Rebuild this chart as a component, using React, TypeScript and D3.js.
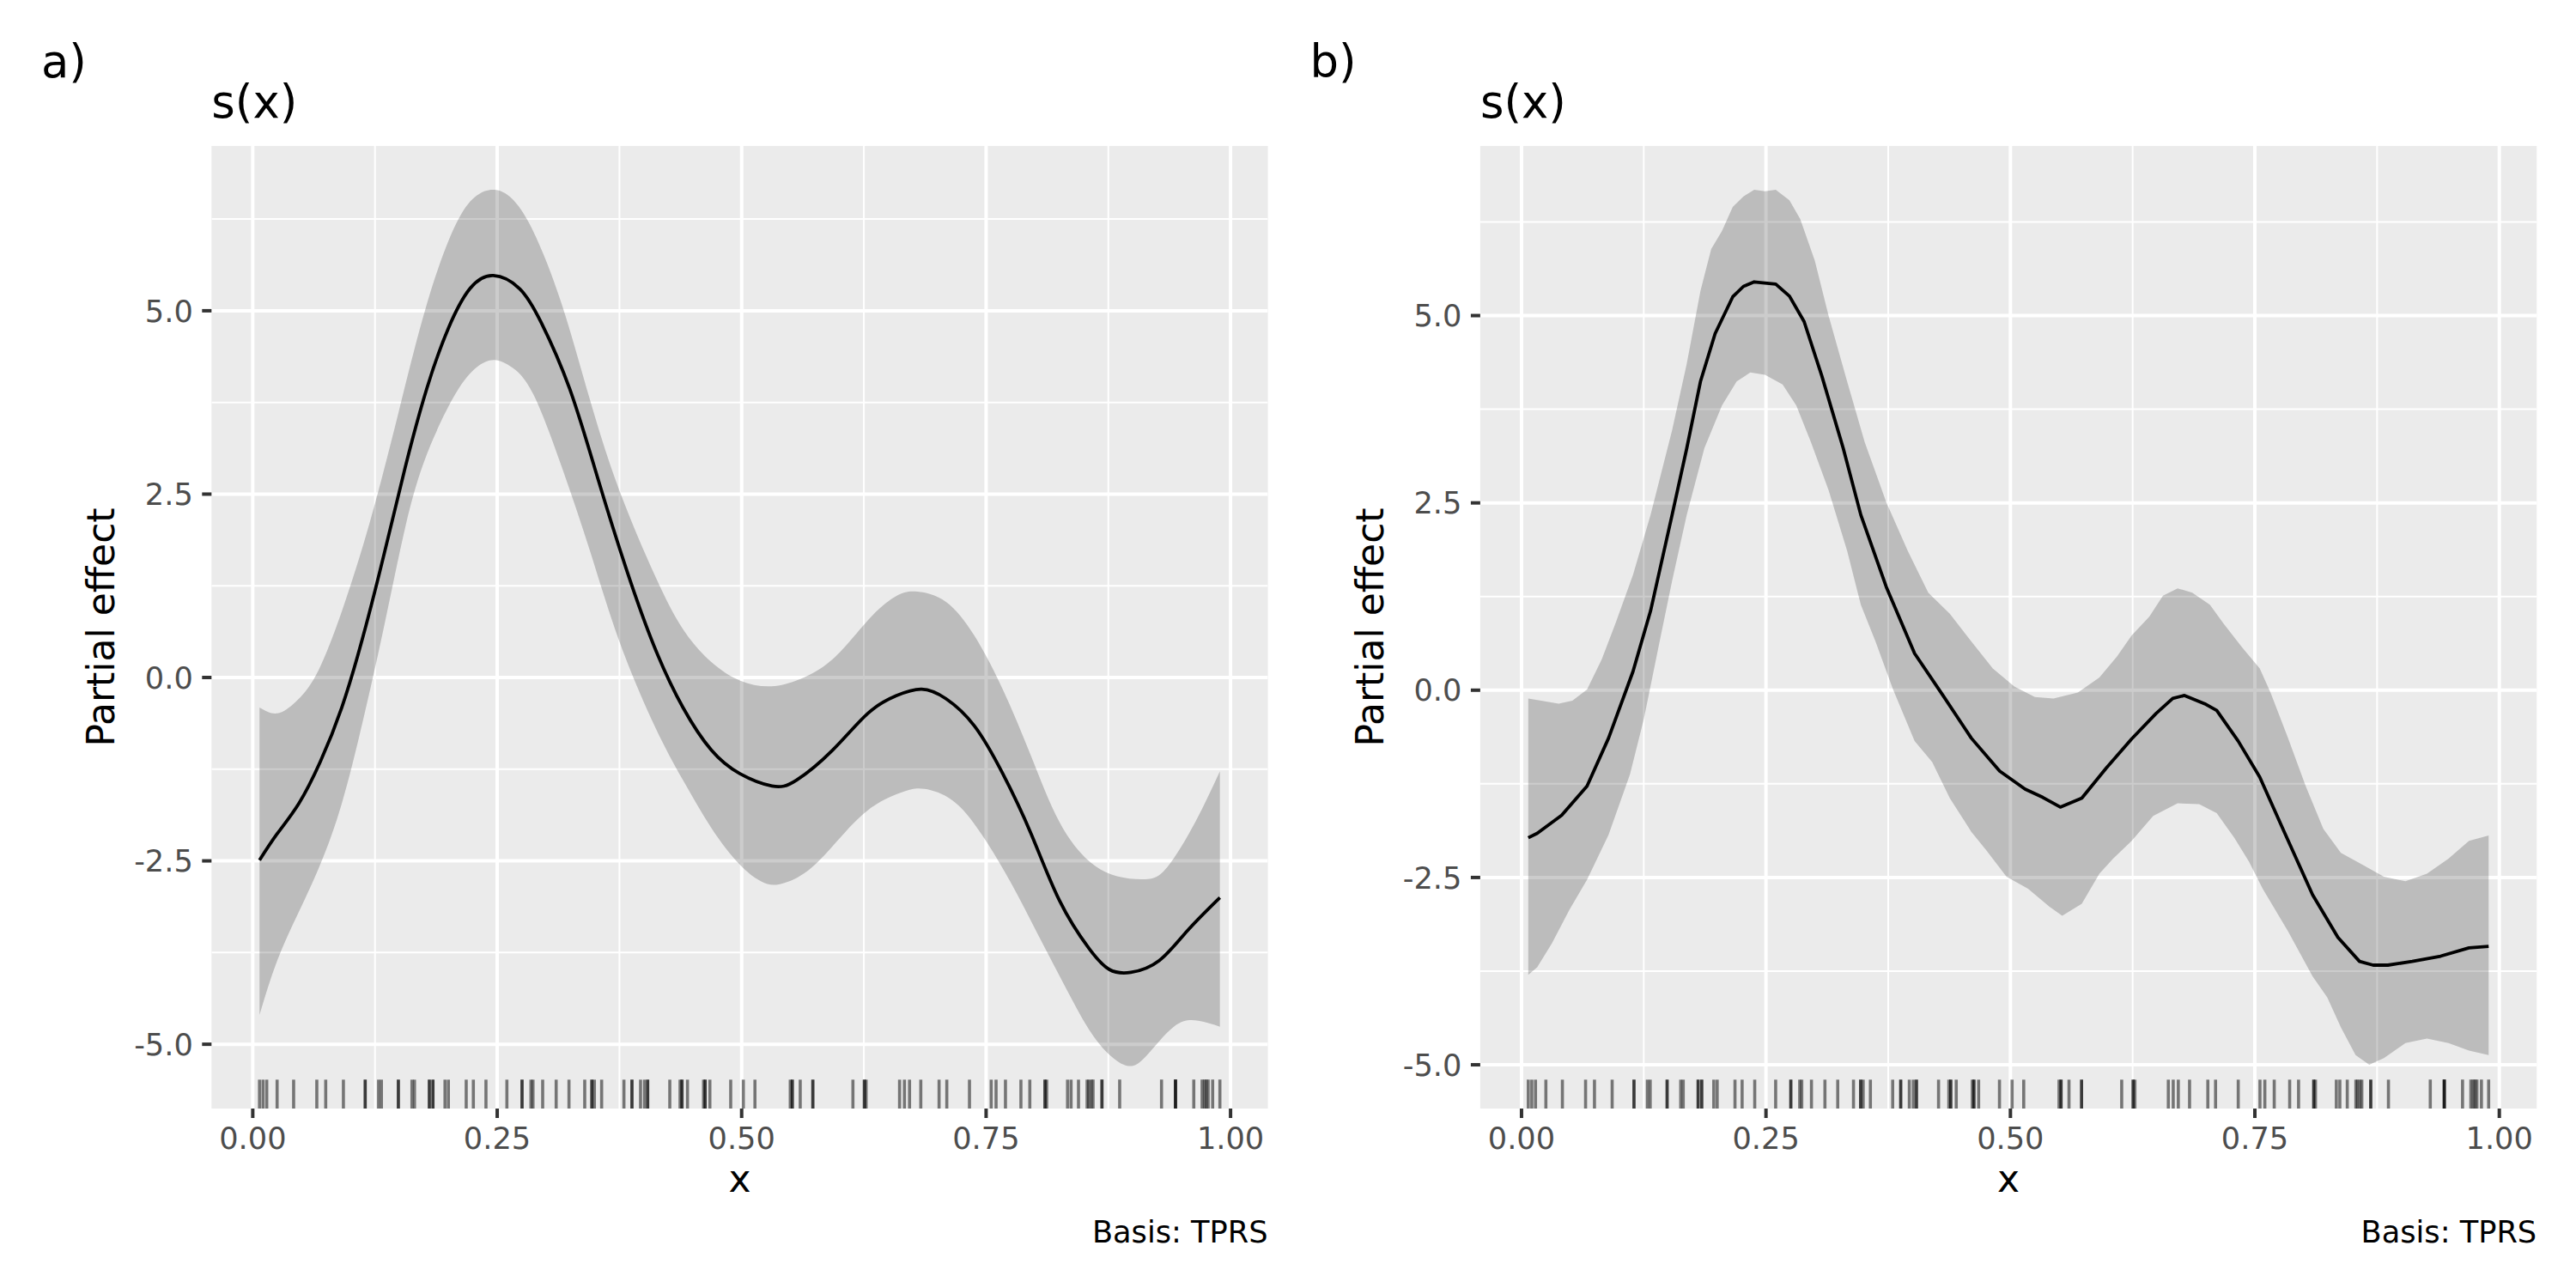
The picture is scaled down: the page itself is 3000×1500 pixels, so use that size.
import React from "react";
import * as d3 from "d3";

const FONT = "DejaVu Sans";

// observed covariate values (rug)
const rugX: number[] = [
  0.0069, 0.0105, 0.0143, 0.0249, 0.0418, 0.0655, 0.0746, 0.0927, 0.115, 0.115,
  0.1287, 0.1316, 0.1489, 0.1489, 0.1628, 0.1654, 0.1806, 0.1806, 0.1843, 0.1843,
  0.1966, 0.2001, 0.2183, 0.2256, 0.2385, 0.2599, 0.2754, 0.2754, 0.2845, 0.2866,
  0.2965, 0.3103, 0.3234, 0.3395, 0.3468, 0.3468, 0.3494, 0.3568, 0.3796, 0.3878,
  0.3878, 0.3966, 0.4007, 0.4039, 0.4039, 0.4265, 0.437, 0.439, 0.439, 0.4446,
  0.461, 0.4627, 0.4627, 0.4675, 0.4888, 0.5017, 0.5136, 0.5497, 0.5518, 0.5518,
  0.5599, 0.5728, 0.5728, 0.6138, 0.6255, 0.6255, 0.6273, 0.6615, 0.6665, 0.6717,
  0.6832, 0.7019, 0.7098, 0.733, 0.7552, 0.7602, 0.7698, 0.7856, 0.7947, 0.8102,
  0.8102, 0.812, 0.8333, 0.8369, 0.8445, 0.8533, 0.855, 0.8574, 0.8594, 0.8685,
  0.8685, 0.8866, 0.9294, 0.9437, 0.9437, 0.9437, 0.9624, 0.9709, 0.9733, 0.9751,
  0.9771, 0.9817, 0.9891,
];

// panel a: estimated smooth and its credible interval
const fitA: [number, number][] = [
  [0.0069, -2.49], [0.025, -2.13], [0.047, -1.72], [0.069, -1.15], [0.091, -0.41],
  [0.113, 0.57], [0.135, 1.72], [0.156, 2.87], [0.178, 3.94], [0.2, 4.76],
  [0.222, 5.3], [0.246, 5.48], [0.273, 5.3], [0.295, 4.84], [0.324, 3.94],
  [0.353, 2.71], [0.382, 1.48], [0.411, 0.41], [0.44, -0.41], [0.469, -0.99],
  [0.498, -1.31], [0.531, -1.48], [0.556, -1.4], [0.593, -0.99], [0.629, -0.49],
  [0.658, -0.25], [0.684, -0.16], [0.709, -0.29], [0.738, -0.66], [0.767, -1.31],
  [0.796, -2.13], [0.825, -3.04], [0.855, -3.69], [0.876, -3.98], [0.898, -4.02],
  [0.927, -3.86], [0.956, -3.45], [0.9891, -3.0],
];
const upperA: [number, number][] = [
  [0.0069, -0.41], [0.025, -0.49], [0.044, -0.33], [0.065, 0.04], [0.091, 0.9],
  [0.12, 2.13], [0.149, 3.61], [0.178, 5.09], [0.207, 6.16], [0.229, 6.57],
  [0.247, 6.65], [0.265, 6.53], [0.287, 6.08], [0.316, 5.09], [0.345, 3.78],
  [0.375, 2.55], [0.411, 1.4], [0.44, 0.66], [0.469, 0.21], [0.498, -0.04],
  [0.527, -0.12], [0.556, -0.04], [0.593, 0.25], [0.629, 0.78], [0.658, 1.11],
  [0.68, 1.17], [0.709, 1.03], [0.738, 0.57], [0.767, -0.16], [0.796, -1.07],
  [0.825, -1.97], [0.855, -2.5], [0.884, -2.71], [0.913, -2.75], [0.935, -2.59],
  [0.964, -1.97], [0.9891, -1.28],
];
const lowerA: [number, number][] = [
  [0.0069, -4.6], [0.025, -3.86], [0.047, -3.2], [0.069, -2.55], [0.091, -1.72],
  [0.113, -0.57], [0.135, 0.74], [0.156, 2.05], [0.178, 3.04], [0.207, 3.86],
  [0.229, 4.23], [0.247, 4.33], [0.265, 4.23], [0.287, 3.86], [0.316, 2.87],
  [0.345, 1.72], [0.375, 0.49], [0.411, -0.66], [0.44, -1.4], [0.469, -2.05],
  [0.498, -2.55], [0.52, -2.78], [0.538, -2.82], [0.564, -2.67], [0.593, -2.3],
  [0.629, -1.81], [0.665, -1.56], [0.687, -1.52], [0.716, -1.68], [0.745, -2.13],
  [0.775, -2.79], [0.804, -3.53], [0.833, -4.27], [0.862, -4.93], [0.891, -5.28],
  [0.913, -5.17], [0.942, -4.76], [0.967, -4.68], [0.9891, -4.76],
];

// panel b
const fitB: [number, number][] = [
  [0.0069, -1.97], [0.016, -1.91], [0.041, -1.67], [0.067, -1.28], [0.089, -0.64],
  [0.114, 0.25], [0.132, 1.06], [0.154, 2.34], [0.169, 3.23], [0.183, 4.12],
  [0.198, 4.76], [0.216, 5.25], [0.227, 5.39], [0.238, 5.45], [0.26, 5.42],
  [0.274, 5.26], [0.289, 4.92], [0.307, 4.2], [0.329, 3.23], [0.347, 2.34],
  [0.373, 1.38], [0.402, 0.49], [0.431, -0.07], [0.46, -0.64], [0.489, -1.08],
  [0.515, -1.32], [0.533, -1.43], [0.551, -1.56], [0.573, -1.44], [0.598, -1.04],
  [0.624, -0.65], [0.649, -0.31], [0.666, -0.11], [0.678, -0.07], [0.7, -0.19],
  [0.711, -0.27], [0.733, -0.68], [0.755, -1.16], [0.78, -1.89], [0.809, -2.73],
  [0.835, -3.3], [0.857, -3.62], [0.871, -3.67], [0.886, -3.67], [0.911, -3.62],
  [0.94, -3.55], [0.969, -3.44], [0.9891, -3.42],
];
const upperB: [number, number][] = [
  [0.0069, -0.11], [0.02, -0.14], [0.038, -0.18], [0.052, -0.14], [0.067, 0.01],
  [0.082, 0.41], [0.096, 0.89], [0.114, 1.54], [0.132, 2.34], [0.154, 3.47],
  [0.169, 4.36], [0.183, 5.33], [0.194, 5.89], [0.205, 6.13], [0.216, 6.45],
  [0.227, 6.59], [0.238, 6.68], [0.249, 6.66], [0.26, 6.68], [0.274, 6.54],
  [0.285, 6.29], [0.3, 5.73], [0.314, 5.0], [0.333, 4.12], [0.351, 3.31],
  [0.373, 2.51], [0.395, 1.86], [0.416, 1.3], [0.438, 1.02], [0.46, 0.65],
  [0.482, 0.29], [0.504, 0.05], [0.525, -0.09], [0.544, -0.11], [0.569, -0.03],
  [0.591, 0.17], [0.609, 0.45], [0.624, 0.73], [0.642, 0.98], [0.656, 1.26],
  [0.671, 1.36], [0.686, 1.3], [0.704, 1.14], [0.718, 0.89], [0.737, 0.57],
  [0.755, 0.29], [0.766, -0.03], [0.784, -0.64], [0.802, -1.28], [0.82, -1.85],
  [0.838, -2.17], [0.86, -2.33], [0.882, -2.49], [0.904, -2.55], [0.926, -2.45],
  [0.948, -2.25], [0.969, -2.01], [0.9891, -1.94],
];
const lowerB: [number, number][] = [
  [0.0069, -3.8], [0.016, -3.7], [0.031, -3.38], [0.049, -2.93], [0.067, -2.53],
  [0.089, -1.93], [0.111, -1.12], [0.125, -0.39], [0.14, 0.57], [0.154, 1.46],
  [0.169, 2.34], [0.187, 3.23], [0.205, 3.8], [0.22, 4.12], [0.234, 4.24],
  [0.249, 4.21], [0.267, 4.08], [0.281, 3.8], [0.296, 3.31], [0.314, 2.67],
  [0.333, 1.86], [0.347, 1.14], [0.362, 0.65], [0.38, 0.01], [0.402, -0.68],
  [0.42, -0.96], [0.438, -1.44], [0.46, -1.89], [0.475, -2.13], [0.496, -2.49],
  [0.518, -2.65], [0.54, -2.89], [0.553, -3.01], [0.573, -2.85], [0.591, -2.45],
  [0.605, -2.25], [0.624, -2.01], [0.646, -1.68], [0.671, -1.51], [0.693, -1.52],
  [0.711, -1.64], [0.729, -1.97], [0.744, -2.29], [0.758, -2.65], [0.784, -3.22],
  [0.809, -3.82], [0.824, -4.1], [0.838, -4.5], [0.853, -4.87], [0.867, -5.0],
  [0.882, -4.91], [0.904, -4.71], [0.926, -4.65], [0.948, -4.71], [0.969, -4.81],
  [0.9891, -4.87],
];

const xTicks = [0, 0.25, 0.5, 0.75, 1];
const xTickLabels = ["0.00", "0.25", "0.50", "0.75", "1.00"];
const xMinor = [-0.125, 0.125, 0.375, 0.625, 0.875, 1.125];
const yTicks = [-5, -2.5, 0, 2.5, 5];
const yTickLabels = ["-5.0", "-2.5", "0.0", "2.5", "5.0"];
const yMinor = [-6.25, -3.75, -1.25, 1.25, 3.75, 6.25];

const tags = ["a)", "b)"];
const titles = ["s(x)", "s(x)"];
const captions = ["Basis: TPRS", "Basis: TPRS"];
const xTitle = "x";
const yTitle = "Partial effect";

const W = 3000;
const H = 1500;
const PANEL_TOP = 170;
const PANEL_BOTTOM = 1291;
const PANEL_LEFT = 246.3;
const PANEL_RIGHT = 1476.6;
const PANEL_OFFSET = 1477.6;

function expand(lo: number, hi: number): [number, number] {
  const r = hi - lo;
  return [lo - 0.05 * r, hi + 0.05 * r];
}

type PanelProps = {
  idx: number;
  fit: [number, number][];
  upper: [number, number][];
  lower: [number, number][];
  smooth: boolean;
};

function Panel({ idx, fit, upper, lower, smooth }: PanelProps) {
  const ox = idx * PANEL_OFFSET;
  const left = PANEL_LEFT + ox;
  const right = PANEL_RIGHT + ox;
  const xExt = d3.extent(rugX) as [number, number];
  const x = d3.scaleLinear().domain(expand(xExt[0], xExt[1])).range([left, right]);
  const yMin = d3.min(lower, (d) => d[1]) as number;
  const yMax = d3.max(upper, (d) => d[1]) as number;
  const y = d3.scaleLinear().domain(expand(yMin, yMax)).range([PANEL_BOTTOM, PANEL_TOP]);
  const curve = smooth ? d3.curveNatural : d3.curveLinear;
  const line = d3
    .line<[number, number]>()
    .x((d) => x(d[0]))
    .y((d) => y(d[1]))
    .curve(curve);
  const upPath = line(upper) as string;
  const loPath = line([...lower].reverse()) as string;
  const ribbon = upPath + loPath.replace(/^M/, "L") + "Z";
  const inX = (v: number) => x(v) >= left && x(v) <= right;
  const inY = (v: number) => y(v) >= PANEL_TOP && y(v) <= PANEL_BOTTOM;
  const rugLen = 0.03 * (PANEL_BOTTOM - PANEL_TOP);
  const cx = (left + right) / 2;
  const cy = (PANEL_TOP + PANEL_BOTTOM) / 2;

  return (
    <g>
      <defs>
        <clipPath id={`clip${idx}`}>
          <rect x={left} y={PANEL_TOP} width={right - left} height={PANEL_BOTTOM - PANEL_TOP} />
        </clipPath>
      </defs>
      <rect x={left} y={PANEL_TOP} width={right - left} height={PANEL_BOTTOM - PANEL_TOP} fill="#EBEBEB" />
      <g clipPath={`url(#clip${idx})`}>
        {yMinor.filter(inY).map((v) => (
          <line key={`ym${v}`} x1={left} x2={right} y1={y(v)} y2={y(v)} stroke="#fff" strokeWidth={2} />
        ))}
        {xMinor.filter(inX).map((v) => (
          <line key={`xm${v}`} x1={x(v)} x2={x(v)} y1={PANEL_TOP} y2={PANEL_BOTTOM} stroke="#fff" strokeWidth={2} />
        ))}
        {yTicks.map((v) => (
          <line key={`yM${v}`} x1={left} x2={right} y1={y(v)} y2={y(v)} stroke="#fff" strokeWidth={4} />
        ))}
        {xTicks.map((v) => (
          <line key={`xM${v}`} x1={x(v)} x2={x(v)} y1={PANEL_TOP} y2={PANEL_BOTTOM} stroke="#fff" strokeWidth={4} />
        ))}
        <path d={ribbon} fill="#000" fillOpacity={0.2} stroke="none" />
        <path d={line(fit) as string} fill="none" stroke="#000" strokeWidth={3.8} strokeLinejoin="round" />
        {rugX.map((v, i) => (
          <line
            key={`r${i}`}
            x1={x(v)}
            x2={x(v)}
            y1={PANEL_BOTTOM - rugLen}
            y2={PANEL_BOTTOM}
            stroke="#000"
            strokeOpacity={0.5}
            strokeWidth={3.6}
          />
        ))}
      </g>
      {/* y axis */}
      {yTicks.map((v, i) => (
        <g key={`yt${v}`}>
          <line x1={left - 11} x2={left} y1={y(v)} y2={y(v)} stroke="#333333" strokeWidth={4} />
          <text
            x={left - 21.5}
            y={y(v)}
            dy="0.36em"
            textAnchor="end"
            fontFamily={FONT}
            fontSize={35.2}
            fill="#4D4D4D"
          >
            {yTickLabels[i]}
          </text>
        </g>
      ))}
      {/* x axis */}
      {xTicks.map((v, i) => (
        <g key={`xt${v}`}>
          <line x1={x(v)} x2={x(v)} y1={PANEL_BOTTOM} y2={PANEL_BOTTOM + 11} stroke="#333333" strokeWidth={4} />
          <text x={x(v)} y={1337.5} textAnchor="middle" fontFamily={FONT} fontSize={35.2} fill="#4D4D4D">
            {xTickLabels[i]}
          </text>
        </g>
      ))}
      <text x={cx} y={1388} textAnchor="middle" fontFamily={FONT} fontSize={44} fill="#000">
        {xTitle}
      </text>
      <text
        transform={`translate(${133 + ox},${cy}) rotate(-90)`}
        textAnchor="middle"
        fontFamily={FONT}
        fontSize={44}
        fill="#000"
      >
        {yTitle}
      </text>
      <text x={left} y={137} fontFamily={FONT} fontSize={52.8} fill="#000">
        {titles[idx]}
      </text>
      <text x={right} y={1447} textAnchor="end" fontFamily={FONT} fontSize={35.2} fill="#000">
        {captions[idx]}
      </text>
      <text x={48 + ox} y={90} fontFamily={FONT} fontSize={52.8} fill="#000">
        {tags[idx]}
      </text>
    </g>
  );
}

export default function App() {
  return (
    <svg
      width={W}
      height={H}
      viewBox={`0 0 ${W} ${H}`}
      style={{ position: "absolute", left: 0, top: 0, display: "block", background: "#fff" }}
    >
      <rect x={0} y={0} width={W} height={H} fill="#fff" />
      <Panel idx={0} fit={fitA} upper={upperA} lower={lowerA} smooth={true} />
      <Panel idx={1} fit={fitB} upper={upperB} lower={lowerB} smooth={false} />
    </svg>
  );
}
